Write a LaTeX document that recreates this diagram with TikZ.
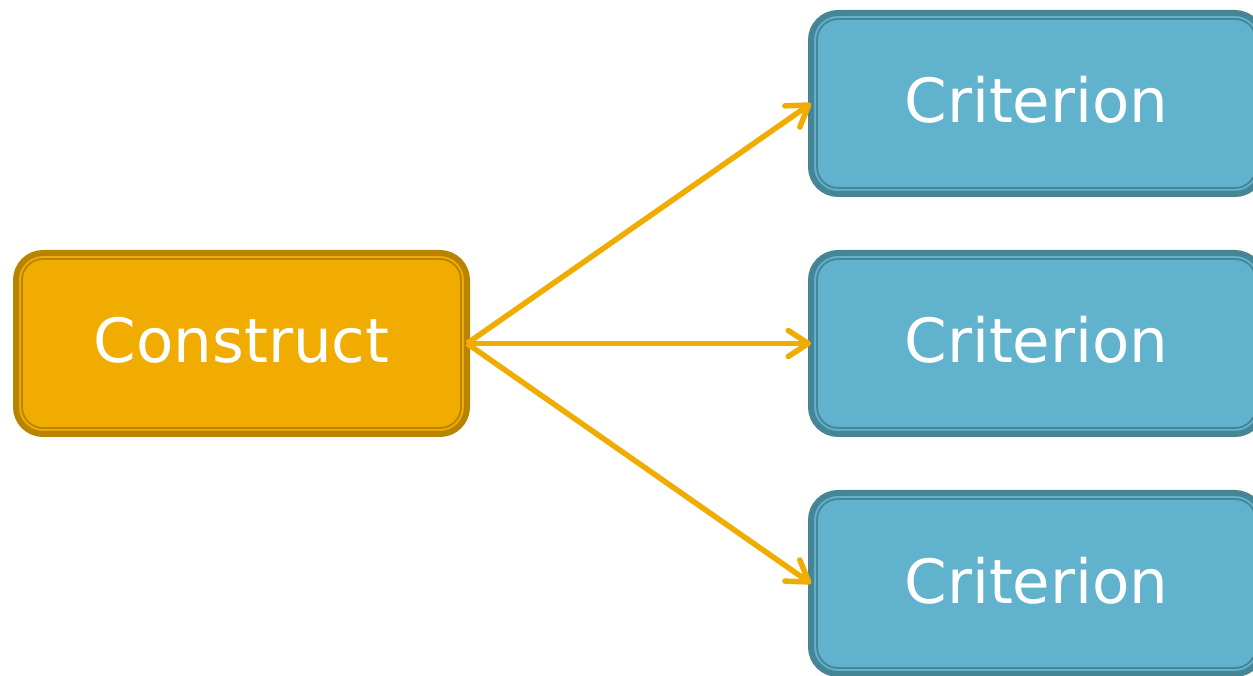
\documentclass[tikz,border=0pt]{standalone}
\usepackage{fontspec}
\setmainfont{DejaVu Sans}
\usetikzlibrary{arrows.meta,positioning}

\definecolor{constructfill}{HTML}{F0AC00}
\definecolor{constructline}{HTML}{B88400}
\definecolor{critfill}{HTML}{61B2CC}
\definecolor{critline}{HTML}{458596}

\begin{document}
\begin{tikzpicture}[x=1pt,y=1pt,node distance=240pt,on grid,
    box/.style={rectangle,rounded corners=27pt,line width=6pt,outer sep=0pt,
        minimum width=451pt,minimum height=181pt,text=white,
        text height=46pt,text depth=7pt,
        font=\fontsize{61}{61}\selectfont},
    construct/.style={box,fill=constructfill,draw=constructline},
    criterion/.style={box,fill=critfill,draw=critline},
    link/.style={line width=5.5pt,draw=constructfill,
        -{Straight Barb[length=20pt,width=26pt,line cap=round,line join=round]}}]
    \useasboundingbox (0,0) rectangle (1253,675);
    \node[construct] (con) at (241.5,331.5) {Construct};
    \node[criterion] [right=795pt of con] (crit2) {Criterion};
    \node[criterion] [above=of crit2] (crit1) {Criterion};
    \node[criterion] [below=of crit2] (crit3) {Criterion};
    % inner lines
    \foreach \n/\c in {con/constructline,crit1/critline,crit2/critline,crit3/critline}
        \draw[\c,line width=1.8pt,rounded corners=21pt]
            ([shift={(6,-6)}]\n.north west) rectangle ([shift={(-6,6)}]\n.south east);
    \foreach \n in {crit1,crit2,crit3}
        \draw[link] (con.east) -- (\n.west);
\end{tikzpicture}
\end{document}
